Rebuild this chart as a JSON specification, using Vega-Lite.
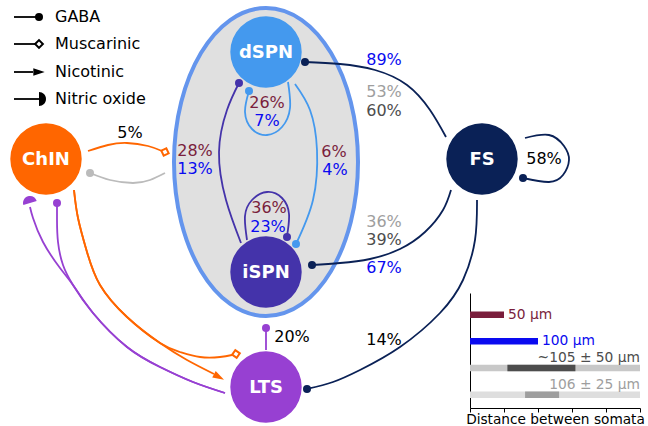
{
  "$schema": "https://vega.github.io/schema/vega-lite/v6.json",
  "width": 648,
  "height": 426,
  "padding": 0,
  "autosize": {"type": "none"},
  "background": "white",
  "config": {"view": {"stroke": null}, "font": "DejaVu Sans"},
  "datasets": {
    "region": [{"name": "striatum", "x": 266, "y": 162}],
    "cells": [
      {"name": "dSPN", "x": 266, "y": 52},
      {"name": "iSPN", "x": 266, "y": 272},
      {"name": "ChIN", "x": 46, "y": 159},
      {"name": "FS", "x": 482, "y": 159},
      {"name": "LTS", "x": 266, "y": 387}
    ],
    "edges": [
      {"e": "dSPN_self", "src": "dSPN", "i": 0, "x": 288, "y": 82},
      {"e": "dSPN_self", "src": "dSPN", "i": 1, "x": 290, "y": 108},
      {"e": "dSPN_self", "src": "dSPN", "i": 2, "x": 282, "y": 127},
      {"e": "dSPN_self", "src": "dSPN", "i": 3, "x": 267, "y": 135},
      {"e": "dSPN_self", "src": "dSPN", "i": 4, "x": 252, "y": 129},
      {"e": "dSPN_self", "src": "dSPN", "i": 5, "x": 245, "y": 112},
      {"e": "dSPN_self", "src": "dSPN", "i": 6, "x": 249, "y": 91},
      {"e": "iSPN_self", "src": "iSPN", "i": 0, "x": 247, "y": 240},
      {"e": "iSPN_self", "src": "iSPN", "i": 1, "x": 245, "y": 216},
      {"e": "iSPN_self", "src": "iSPN", "i": 2, "x": 252, "y": 200},
      {"e": "iSPN_self", "src": "iSPN", "i": 3, "x": 267, "y": 192},
      {"e": "iSPN_self", "src": "iSPN", "i": 4, "x": 282, "y": 198},
      {"e": "iSPN_self", "src": "iSPN", "i": 5, "x": 289, "y": 214},
      {"e": "iSPN_self", "src": "iSPN", "i": 6, "x": 287, "y": 236},
      {"e": "iSPN_dSPN", "src": "iSPN", "i": 0, "x": 241, "y": 243},
      {"e": "iSPN_dSPN", "src": "iSPN", "i": 1, "x": 226, "y": 200},
      {"e": "iSPN_dSPN", "src": "iSPN", "i": 2, "x": 219, "y": 152},
      {"e": "iSPN_dSPN", "src": "iSPN", "i": 3, "x": 227, "y": 110},
      {"e": "iSPN_dSPN", "src": "iSPN", "i": 4, "x": 239, "y": 83},
      {"e": "dSPN_iSPN", "src": "dSPN", "i": 0, "x": 295, "y": 84},
      {"e": "dSPN_iSPN", "src": "dSPN", "i": 1, "x": 310, "y": 110},
      {"e": "dSPN_iSPN", "src": "dSPN", "i": 2, "x": 317, "y": 150},
      {"e": "dSPN_iSPN", "src": "dSPN", "i": 3, "x": 313, "y": 200},
      {"e": "dSPN_iSPN", "src": "dSPN", "i": 4, "x": 296, "y": 244},
      {"e": "FS_dSPN", "src": "FS", "i": 0, "x": 446, "y": 137},
      {"e": "FS_dSPN", "src": "FS", "i": 1, "x": 430, "y": 110},
      {"e": "FS_dSPN", "src": "FS", "i": 2, "x": 407, "y": 85},
      {"e": "FS_dSPN", "src": "FS", "i": 3, "x": 375, "y": 70},
      {"e": "FS_dSPN", "src": "FS", "i": 4, "x": 340, "y": 64},
      {"e": "FS_dSPN", "src": "FS", "i": 5, "x": 305, "y": 62},
      {"e": "FS_iSPN", "src": "FS", "i": 0, "x": 451, "y": 190},
      {"e": "FS_iSPN", "src": "FS", "i": 1, "x": 443, "y": 210},
      {"e": "FS_iSPN", "src": "FS", "i": 2, "x": 425, "y": 232},
      {"e": "FS_iSPN", "src": "FS", "i": 3, "x": 400, "y": 249},
      {"e": "FS_iSPN", "src": "FS", "i": 4, "x": 370, "y": 259},
      {"e": "FS_iSPN", "src": "FS", "i": 5, "x": 340, "y": 263},
      {"e": "FS_iSPN", "src": "FS", "i": 6, "x": 312, "y": 265},
      {"e": "FS_self", "src": "FS", "i": 0, "x": 525, "y": 138},
      {"e": "FS_self", "src": "FS", "i": 1, "x": 549, "y": 135},
      {"e": "FS_self", "src": "FS", "i": 2, "x": 564, "y": 146},
      {"e": "FS_self", "src": "FS", "i": 3, "x": 569, "y": 160},
      {"e": "FS_self", "src": "FS", "i": 4, "x": 563, "y": 175},
      {"e": "FS_self", "src": "FS", "i": 5, "x": 549, "y": 182},
      {"e": "FS_self", "src": "FS", "i": 6, "x": 523, "y": 178},
      {"e": "FS_LTS", "src": "FS", "i": 0, "x": 477, "y": 200},
      {"e": "FS_LTS", "src": "FS", "i": 1, "x": 475, "y": 240},
      {"e": "FS_LTS", "src": "FS", "i": 2, "x": 463, "y": 280},
      {"e": "FS_LTS", "src": "FS", "i": 3, "x": 440, "y": 313},
      {"e": "FS_LTS", "src": "FS", "i": 4, "x": 400, "y": 347},
      {"e": "FS_LTS", "src": "FS", "i": 5, "x": 360, "y": 370},
      {"e": "FS_LTS", "src": "FS", "i": 6, "x": 333, "y": 382},
      {"e": "FS_LTS", "src": "FS", "i": 7, "x": 307, "y": 389},
      {"e": "LTS_SPN", "src": "LTS", "i": 0, "x": 266, "y": 350},
      {"e": "LTS_SPN", "src": "LTS", "i": 1, "x": 266, "y": 328},
      {"e": "ChIN_SPN", "src": "ChIN", "i": 0, "x": 88, "y": 151},
      {"e": "ChIN_SPN", "src": "ChIN", "i": 1, "x": 108, "y": 145},
      {"e": "ChIN_SPN", "src": "ChIN", "i": 2, "x": 127, "y": 143},
      {"e": "ChIN_SPN", "src": "ChIN", "i": 3, "x": 148, "y": 146},
      {"e": "ChIN_SPN", "src": "ChIN", "i": 4, "x": 162, "y": 151},
      {"e": "SPN_ChIN", "src": "SPN", "i": 0, "x": 165, "y": 173},
      {"e": "SPN_ChIN", "src": "SPN", "i": 1, "x": 150, "y": 180},
      {"e": "SPN_ChIN", "src": "SPN", "i": 2, "x": 133, "y": 183},
      {"e": "SPN_ChIN", "src": "SPN", "i": 3, "x": 110, "y": 180},
      {"e": "SPN_ChIN", "src": "SPN", "i": 4, "x": 90, "y": 173},
      {"e": "ChIN_LTS_nic", "src": "ChIN", "i": 0, "x": 74, "y": 190},
      {"e": "ChIN_LTS_nic", "src": "ChIN", "i": 1, "x": 78, "y": 218},
      {"e": "ChIN_LTS_nic", "src": "ChIN", "i": 2, "x": 87, "y": 252},
      {"e": "ChIN_LTS_nic", "src": "ChIN", "i": 3, "x": 100, "y": 285},
      {"e": "ChIN_LTS_nic", "src": "ChIN", "i": 4, "x": 127, "y": 317},
      {"e": "ChIN_LTS_nic", "src": "ChIN", "i": 5, "x": 160, "y": 343},
      {"e": "ChIN_LTS_nic", "src": "ChIN", "i": 6, "x": 187, "y": 360},
      {"e": "ChIN_LTS_nic", "src": "ChIN", "i": 7, "x": 214, "y": 374},
      {"e": "ChIN_LTS_mus", "src": "ChIN", "i": 0, "x": 74, "y": 190},
      {"e": "ChIN_LTS_mus", "src": "ChIN", "i": 1, "x": 78, "y": 218},
      {"e": "ChIN_LTS_mus", "src": "ChIN", "i": 2, "x": 87, "y": 252},
      {"e": "ChIN_LTS_mus", "src": "ChIN", "i": 3, "x": 100, "y": 285},
      {"e": "ChIN_LTS_mus", "src": "ChIN", "i": 4, "x": 127, "y": 317},
      {"e": "ChIN_LTS_mus", "src": "ChIN", "i": 5, "x": 160, "y": 343},
      {"e": "ChIN_LTS_mus", "src": "ChIN", "i": 6, "x": 180, "y": 352},
      {"e": "ChIN_LTS_mus", "src": "ChIN", "i": 7, "x": 200, "y": 357},
      {"e": "ChIN_LTS_mus", "src": "ChIN", "i": 8, "x": 220, "y": 357},
      {"e": "ChIN_LTS_mus", "src": "ChIN", "i": 9, "x": 232, "y": 355},
      {"e": "LTS_ChIN_no", "src": "LTS", "i": 0, "x": 225, "y": 393},
      {"e": "LTS_ChIN_no", "src": "LTS", "i": 1, "x": 193, "y": 382},
      {"e": "LTS_ChIN_no", "src": "LTS", "i": 2, "x": 160, "y": 367},
      {"e": "LTS_ChIN_no", "src": "LTS", "i": 3, "x": 127, "y": 347},
      {"e": "LTS_ChIN_no", "src": "LTS", "i": 4, "x": 93, "y": 313},
      {"e": "LTS_ChIN_no", "src": "LTS", "i": 5, "x": 73, "y": 285},
      {"e": "LTS_ChIN_no", "src": "LTS", "i": 6, "x": 60, "y": 268},
      {"e": "LTS_ChIN_no", "src": "LTS", "i": 7, "x": 43, "y": 242},
      {"e": "LTS_ChIN_no", "src": "LTS", "i": 8, "x": 33, "y": 218},
      {"e": "LTS_ChIN_no", "src": "LTS", "i": 9, "x": 30, "y": 207},
      {"e": "LTS_ChIN_gaba", "src": "LTS", "i": 0, "x": 225, "y": 393},
      {"e": "LTS_ChIN_gaba", "src": "LTS", "i": 1, "x": 193, "y": 382},
      {"e": "LTS_ChIN_gaba", "src": "LTS", "i": 2, "x": 160, "y": 367},
      {"e": "LTS_ChIN_gaba", "src": "LTS", "i": 3, "x": 127, "y": 347},
      {"e": "LTS_ChIN_gaba", "src": "LTS", "i": 4, "x": 93, "y": 313},
      {"e": "LTS_ChIN_gaba", "src": "LTS", "i": 5, "x": 73, "y": 285},
      {"e": "LTS_ChIN_gaba", "src": "LTS", "i": 6, "x": 63, "y": 265},
      {"e": "LTS_ChIN_gaba", "src": "LTS", "i": 7, "x": 58, "y": 242},
      {"e": "LTS_ChIN_gaba", "src": "LTS", "i": 8, "x": 57, "y": 220},
      {"e": "LTS_ChIN_gaba", "src": "LTS", "i": 9, "x": 57, "y": 206},
      {"e": "key_gaba", "src": "key", "i": 0, "x": 14, "y": 17},
      {"e": "key_gaba", "src": "key", "i": 1, "x": 37, "y": 17},
      {"e": "key_mus", "src": "key", "i": 0, "x": 14, "y": 44},
      {"e": "key_mus", "src": "key", "i": 1, "x": 35, "y": 44},
      {"e": "key_nic", "src": "key", "i": 0, "x": 14, "y": 72},
      {"e": "key_nic", "src": "key", "i": 1, "x": 33, "y": 72},
      {"e": "key_no", "src": "key", "i": 0, "x": 14, "y": 99},
      {"e": "key_no", "src": "key", "i": 1, "x": 39, "y": 99}
    ],
    "ends": [
      {"e": "dSPN_self", "src": "dSPN", "kind": "gaba", "x": 249, "y": 91, "heading": 0},
      {"e": "iSPN_self", "src": "iSPN", "kind": "gaba", "x": 287, "y": 237, "heading": 0},
      {"e": "iSPN_dSPN", "src": "iSPN", "kind": "gaba", "x": 239, "y": 83, "heading": 0},
      {"e": "dSPN_iSPN", "src": "dSPN", "kind": "gaba", "x": 296, "y": 244, "heading": 0},
      {"e": "FS_dSPN", "src": "FS", "kind": "gaba", "x": 305, "y": 62, "heading": 0},
      {"e": "FS_iSPN", "src": "FS", "kind": "gaba", "x": 312, "y": 265, "heading": 0},
      {"e": "FS_self", "src": "FS", "kind": "gaba", "x": 523, "y": 178, "heading": 0},
      {"e": "FS_LTS", "src": "FS", "kind": "gaba", "x": 307, "y": 389, "heading": 0},
      {"e": "LTS_SPN", "src": "LTS", "kind": "gaba", "x": 266, "y": 328, "heading": 0},
      {"e": "ChIN_SPN", "src": "ChIN", "kind": "mus", "x": 165, "y": 152, "heading": 20},
      {"e": "SPN_ChIN", "src": "SPN", "kind": "gaba", "x": 90, "y": 173, "heading": 0},
      {"e": "ChIN_LTS_nic", "src": "ChIN", "kind": "nic", "x": 219, "y": 377, "heading": 28},
      {"e": "ChIN_LTS_mus", "src": "ChIN", "kind": "mus", "x": 236, "y": 354, "heading": -10},
      {"e": "LTS_ChIN_no", "src": "LTS", "kind": "no", "x": 30, "y": 203, "heading": 253},
      {"e": "LTS_ChIN_gaba", "src": "LTS", "kind": "gaba", "x": 57, "y": 203, "heading": 0},
      {"e": "key_gaba", "src": "key", "kind": "gaba", "x": 39, "y": 17, "heading": 0},
      {"e": "key_mus", "src": "key", "kind": "mus", "x": 39, "y": 44, "heading": 0},
      {"e": "key_nic", "src": "key", "kind": "nic", "x": 39, "y": 72, "heading": 0},
      {"e": "key_no", "src": "key", "kind": "no", "x": 39, "y": 99, "heading": 0}
    ],
    "rates": [
      {"label": "26%", "x": 267, "y": 103, "within": "d50"},
      {"label": "7%", "x": 267, "y": 121, "within": "d100"},
      {"label": "36%", "x": 269, "y": 208, "within": "d50"},
      {"label": "23%", "x": 268, "y": 227, "within": "d100"},
      {"label": "28%", "x": 195, "y": 151, "within": "d50"},
      {"label": "13%", "x": 195, "y": 169, "within": "d100"},
      {"label": "6%", "x": 334, "y": 152, "within": "d50"},
      {"label": "4%", "x": 335, "y": 170, "within": "d100"},
      {"label": "89%", "x": 384, "y": 60, "within": "d100"},
      {"label": "53%", "x": 384, "y": 92, "within": "d106"},
      {"label": "60%", "x": 384, "y": 111, "within": "d105"},
      {"label": "36%", "x": 384, "y": 222, "within": "d106"},
      {"label": "39%", "x": 384, "y": 240, "within": "d105"},
      {"label": "67%", "x": 384, "y": 268, "within": "d100"},
      {"label": "58%", "x": 544, "y": 159, "within": "other"},
      {"label": "14%", "x": 384, "y": 340, "within": "other"},
      {"label": "20%", "x": 292, "y": 337, "within": "other"},
      {"label": "5%", "x": 130, "y": 133, "within": "other"}
    ],
    "key": [
      {"label": "GABA", "x": 55, "y": 17},
      {"label": "Muscarinic", "x": 55, "y": 44},
      {"label": "Nicotinic", "x": 55, "y": 72},
      {"label": "Nitric oxide", "x": 55, "y": 99}
    ],
    "dist": [
      {"row": "50", "lo": 0, "hi": 50, "tone": "d50"},
      {"row": "100", "lo": 0, "hi": 100, "tone": "d100"},
      {"row": "105", "lo": 0, "hi": 250, "tone": "d105bg"},
      {"row": "105", "lo": 55, "hi": 155, "tone": "d105"},
      {"row": "106", "lo": 0, "hi": 250, "tone": "d106bg"},
      {"row": "106", "lo": 81, "hi": 131, "tone": "d106"}
    ],
    "distText": [
      {"row": "50", "at": 50, "label": "50 µm", "tone": "d50", "side": "end"},
      {"row": "100", "at": 100, "label": "100 µm", "tone": "d100", "side": "end"},
      {"row": "105", "at": 250, "label": "~105 ± 50 µm", "tone": "d105", "side": "above"},
      {"row": "106", "at": 250, "label": "106  ± 25 µm", "tone": "d106", "side": "above"}
    ]
  },
  "resolve": {
    "scale": {"x": "independent", "y": "independent"},
    "axis": {"x": "independent", "y": "independent"}
  },
  "layer": [
    {
      "encoding": {
        "x": {"field": "x", "type": "quantitative", "scale": {"domain": [0, 648], "nice": false, "zero": false}, "axis": null},
        "y": {"field": "y", "type": "quantitative", "scale": {"domain": [0, 426], "nice": false, "zero": false, "reverse": true}, "axis": null}
      },
      "layer": [
        {
          "data": {"name": "region"},
          "mark": {
            "type": "point",
            "shape": "M1,0C1,0.9246 0.5523,1.674 0,1.674C-0.5523,1.674 -1,0.9246 -1,0C-1,-0.9246 -0.5523,-1.674 0,-1.674C0.5523,-1.674 1,-0.9246 1,0Z",
            "size": 33856,
            "filled": true,
            "fill": "#e0e0e0",
            "stroke": "#6495ed",
            "strokeWidth": 4,
            "opacity": 1
          }
        },
        {
          "data": {"name": "edges"},
          "mark": {"type": "line", "interpolate": "natural", "strokeWidth": 1.8},
          "encoding": {
            "detail": {"field": "e"},
            "order": {"field": "i", "type": "quantitative"},
            "stroke": {
              "field": "src", "type": "nominal", "legend": null,
              "scale": {"domain": ["dSPN", "iSPN", "ChIN", "FS", "LTS", "SPN", "key"], "range": ["#4499ee", "#4433aa", "#ff6600", "#0a2156", "#9740d2", "#bbbbbb", "#000000"]}
            }
          }
        },
        {
          "data": {"name": "cells"},
          "mark": {"type": "point", "shape": "circle", "size": 5100, "filled": true, "opacity": 1, "strokeWidth": 0},
          "encoding": {
            "fill": {
              "field": "name", "type": "nominal", "legend": null,
              "scale": {"domain": ["dSPN", "iSPN", "ChIN", "FS", "LTS", "SPN", "key"], "range": ["#4499ee", "#4433aa", "#ff6600", "#0a2156", "#9740d2", "#bbbbbb", "#000000"]}
            }
          }
        },
        {
          "data": {"name": "ends"},
          "transform": [{"filter": "datum.kind !== 'mus'"}],
          "mark": {"type": "point", "filled": true, "opacity": 1, "strokeWidth": 0},
          "encoding": {
            "shape": {
              "field": "kind", "type": "nominal", "legend": null,
              "scale": {"domain": ["gaba", "nic", "no"], "range": ["circle", "M1,0L-1,-0.65L-1,0.65Z", "M0,-1C0.5523,-1 1,-0.5523 1,0C1,0.5523 0.5523,1 0,1Z"]}
            },
            "size": {
              "field": "kind", "type": "ordinal", "legend": null,
              "scale": {"domain": ["gaba", "nic", "no"], "range": [64, 196, 121]}
            },
            "angle": {"field": "heading", "type": "quantitative", "scale": {"domain": [-360, 360], "range": [-360, 360]}},
            "fill": {
              "field": "src", "type": "nominal", "legend": null,
              "scale": {"domain": ["dSPN", "iSPN", "ChIN", "FS", "LTS", "SPN", "key"], "range": ["#4499ee", "#4433aa", "#ff6600", "#0a2156", "#9740d2", "#bbbbbb", "#000000"]}
            }
          }
        },
        {
          "data": {"name": "ends"},
          "transform": [{"filter": "datum.kind === 'mus'"}],
          "mark": {"type": "point", "shape": "diamond", "size": 60, "filled": true, "fill": "white", "opacity": 1, "strokeWidth": 2},
          "encoding": {
            "angle": {"field": "heading", "type": "quantitative", "scale": {"domain": [-360, 360], "range": [-360, 360]}},
            "stroke": {
              "field": "src", "type": "nominal", "legend": null,
              "scale": {"domain": ["dSPN", "iSPN", "ChIN", "FS", "LTS", "SPN", "key"], "range": ["#4499ee", "#4433aa", "#ff6600", "#0a2156", "#9740d2", "#bbbbbb", "#000000"]}
            }
          }
        },
        {
          "data": {"name": "cells"},
          "mark": {"type": "text", "font": "DejaVu Sans", "fontWeight": "bold", "fontSize": 18, "color": "white", "baseline": "middle", "align": "center", "dy": 1},
          "encoding": {"text": {"field": "name"}}
        },
        {
          "data": {"name": "rates"},
          "mark": {"type": "text", "font": "DejaVu Sans", "fontSize": 16, "baseline": "middle", "align": "center"},
          "encoding": {
            "text": {"field": "label"},
            "color": {
              "field": "within", "type": "nominal", "legend": null,
              "scale": {"domain": ["d50", "d100", "d105", "d106", "d105bg", "d106bg", "other"], "range": ["#7a1e3c", "#0a0af0", "#4d4d4d", "#9e9e9e", "#c8c8c8", "#dedede", "#000000"]}
            }
          }
        },
        {
          "data": {"name": "key"},
          "mark": {"type": "text", "font": "DejaVu Sans", "fontSize": 16, "baseline": "middle", "align": "left", "color": "black"},
          "encoding": {"text": {"field": "label"}}
        }
      ]
    },
    {
      "layer": [
        {
          "data": {"name": "dist"},
          "mark": {"type": "bar", "height": 6.5},
          "encoding": {
            "x": {
              "field": "lo", "type": "quantitative",
              "scale": {"domain": [0, 250], "range": [470, 640], "nice": false, "zero": true},
              "axis": {
                "orient": "bottom", "offset": -18, "values": [0, 50, 100, 150, 200, 250],
                "labels": false, "ticks": true, "tickSize": 4, "tickColor": "black", "domainColor": "black", "grid": false,
                "title": "Distance between somata", "titleFont": "DejaVu Sans", "titleFontSize": 13.7,
                "titleFontWeight": "normal", "titleColor": "black", "titlePadding": 0
              }
            },
            "x2": {"field": "hi"},
            "y": {
              "field": "row", "type": "nominal",
              "scale": {"type": "band", "domain": ["50", "100", "105", "106"], "range": [293, 408], "paddingInner": 0, "paddingOuter": 0.156, "align": 1},
              "axis": {"orient": "left", "offset": -470, "ticks": false, "labels": false, "title": null, "grid": false, "domainColor": "black"}
            },
            "color": {
              "field": "tone", "type": "nominal", "legend": null,
              "scale": {"domain": ["d50", "d100", "d105", "d106", "d105bg", "d106bg", "other"], "range": ["#7a1e3c", "#0a0af0", "#4d4d4d", "#9e9e9e", "#c8c8c8", "#dedede", "#000000"]}
            }
          }
        },
        {
          "data": {"name": "distText"},
          "transform": [{"filter": "datum.side === 'end'"}],
          "mark": {"type": "text", "font": "DejaVu Sans", "fontSize": 13.8, "align": "left", "baseline": "middle", "dx": 4},
          "encoding": {
            "x": {"field": "at", "type": "quantitative"},
            "y": {"field": "row", "type": "nominal"},
            "text": {"field": "label"},
            "color": {"field": "tone", "type": "nominal", "legend": null}
          }
        },
        {
          "data": {"name": "distText"},
          "transform": [{"filter": "datum.side === 'above'"}],
          "mark": {"type": "text", "font": "DejaVu Sans", "fontSize": 13.8, "align": "right", "baseline": "middle", "dy": -10},
          "encoding": {
            "x": {"field": "at", "type": "quantitative"},
            "y": {"field": "row", "type": "nominal"},
            "text": {"field": "label"},
            "color": {"field": "tone", "type": "nominal", "legend": null}
          }
        }
      ]
    }
  ]
}
